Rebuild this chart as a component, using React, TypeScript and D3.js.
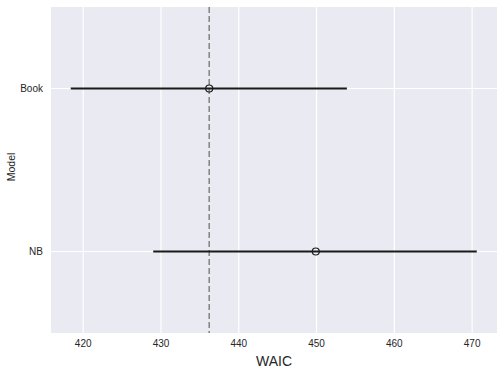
import React from 'react';
import * as d3 from 'd3';

const models = ['Book', 'NB'];
const waic = [436.2, 449.9];
const waicLow = [418.4, 429.0];
const waicHigh = [453.9, 470.6];
const refLine = 436.2;
const xTicks = [420, 430, 440, 450, 460, 470];

const W = 504;
const H = 375;
const margin = { top: 7, right: 7, bottom: 42, left: 51 };

export default function App() {
  const x = d3.scaleLinear().domain([415.86, 473.2]).range([margin.left, W - margin.right]);
  const y = d3.scalePoint<string>().domain(models).range([margin.top, H - margin.bottom]).padding(0.5);
  const font = 'Liberation Sans, Arial, sans-serif';

  return (
    <svg width={W} height={H} style={{ position: 'absolute', left: 0, top: 0 }} fontFamily={font}>
      <rect x={0} y={0} width={W} height={H} fill="#fff" />
      <rect
        x={margin.left}
        y={margin.top}
        width={W - margin.left - margin.right}
        height={H - margin.top - margin.bottom}
        fill="#EAEAF2"
      />
      {/* grid */}
      {xTicks.map(t => (
        <line key={'gx' + t} x1={x(t)} x2={x(t)} y1={margin.top} y2={H - margin.bottom} stroke="#fff" strokeWidth={1.2} />
      ))}
      {models.map(m => (
        <line key={'gy' + m} x1={margin.left} x2={W - margin.right} y1={y(m)} y2={y(m)} stroke="#fff" strokeWidth={1.2} />
      ))}
      {/* reference line */}
      <line
        x1={x(refLine)}
        x2={x(refLine)}
        y1={margin.top}
        y2={H - margin.bottom}
        stroke="#888"
        strokeWidth={1.6}
        strokeDasharray="6,3"
      />
      {/* intervals */}
      {models.map((m, i) => (
        <g key={m}>
          <line x1={x(waicLow[i])} x2={x(waicHigh[i])} y1={y(m)} y2={y(m)} stroke="#1a1a1a" strokeWidth={1.8} />
          <circle cx={x(waic[i])} cy={y(m)} r={3.5} fill="none" stroke="#1a1a1a" strokeWidth={1.2} />
        </g>
      ))}
      {/* x tick labels */}
      {xTicks.map(t => (
        <text key={'tx' + t} x={x(t)} y={347} textAnchor="middle" fontSize={10} fill="#262626">
          {t}
        </text>
      ))}
      {/* y tick labels */}
      {models.map(m => (
        <text key={'ty' + m} x={43} y={(y(m) as number) + 3.5} textAnchor="end" fontSize={10} fill="#262626">
          {m}
        </text>
      ))}
      <text x={(margin.left + W - margin.right) / 2} y={366} textAnchor="middle" fontSize={14} fill="#262626">
        WAIC
      </text>
      <text
        transform={`translate(15,167) rotate(-90)`}
        textAnchor="middle"
        fontSize={10.5}
        fill="#262626"
      >
        Model
      </text>
    </svg>
  );
}
